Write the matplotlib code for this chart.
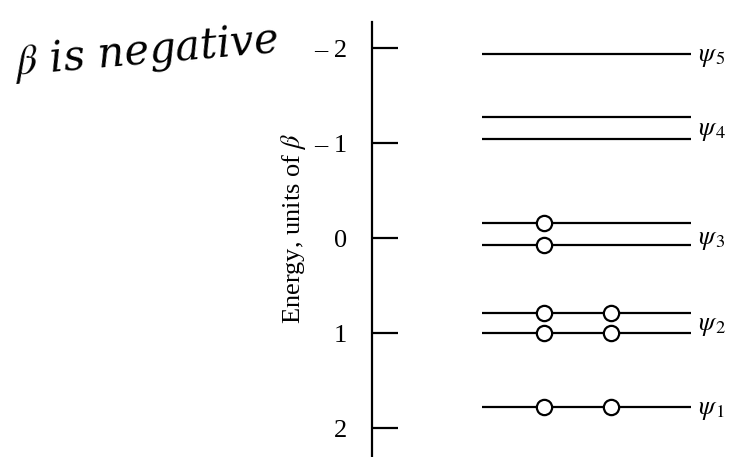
import matplotlib
matplotlib.use("Agg")
import matplotlib.pyplot as plt

plt.rcParams["mathtext.fontset"] = "stix"
plt.rcParams["font.family"] = ["Liberation Serif", "DejaVu Serif"]

# Energy levels (units of beta, positive = down on the scale)
levels = [-1.94, -1.27, -1.04, -0.16, 0.07, 0.79, 1.00, 1.78]
electrons = [0, 0, 0, 1, 1, 2, 2, 2]

# State labels and where they sit on the energy scale
state_names = [r"$\psi_{\,5}$", r"$\psi_{\,4}$", r"$\psi_{\,3}$", r"$\psi_{\,2}$", r"$\psi_{\,1}$"]
state_pos = [-1.90, -1.12, 0.03, 0.94, 1.82]

tick_vals = [-2, -1, 0, 1, 2]
tick_labels = ["\u2013 2", "\u2013 1", "0", "1", "2"]

W, H = 744, 457
fig = plt.figure(figsize=(W / 100, H / 100), dpi=100)
ax = fig.add_axes([372 / W, 0, (W - 372) / W, (H - 22) / H])

x0, x1 = 110, 319          # level line extent (px from spine)
circ_x = [172, 239]        # electron positions

for e, n in zip(levels, electrons):
    ax.plot([x0, x1], [e, e], color="black", lw=1.6, solid_capstyle="butt")
    if n:
        ax.plot(circ_x[:n], [e] * n, "o", ms=11, mfc="white", mec="black",
                mew=1.6, zorder=3)

for name, p in zip(state_names, state_pos):
    ax.text(326, p, name, fontsize=19, va="center", ha="left")

ax.set_xlim(0, W - 372)
ax.set_ylim(2.305, -2.274)
ax.set_yticks(tick_vals)
ax.set_yticklabels(tick_labels, fontsize=19)
ax.tick_params(axis="y", direction="in", length=19, width=1.6, pad=18)
ax.set_xticks([])
for s in ("top", "right", "bottom"):
    ax.spines[s].set_visible(False)
ax.spines["left"].set_linewidth(1.6)

fig.text(293 / W, 1 - 228 / H, r"Energy, units of $\beta$", rotation=90,
         fontsize=19, ha="center", va="center")

fig.text(12 / W, 1 - 52 / H, r"$\beta$ is negative", fontsize=30,
         fontstyle="italic", rotation=5, ha="left", va="center",
         family=["DejaVu Serif"])

fig.savefig("out.png", dpi=100, facecolor="white")
